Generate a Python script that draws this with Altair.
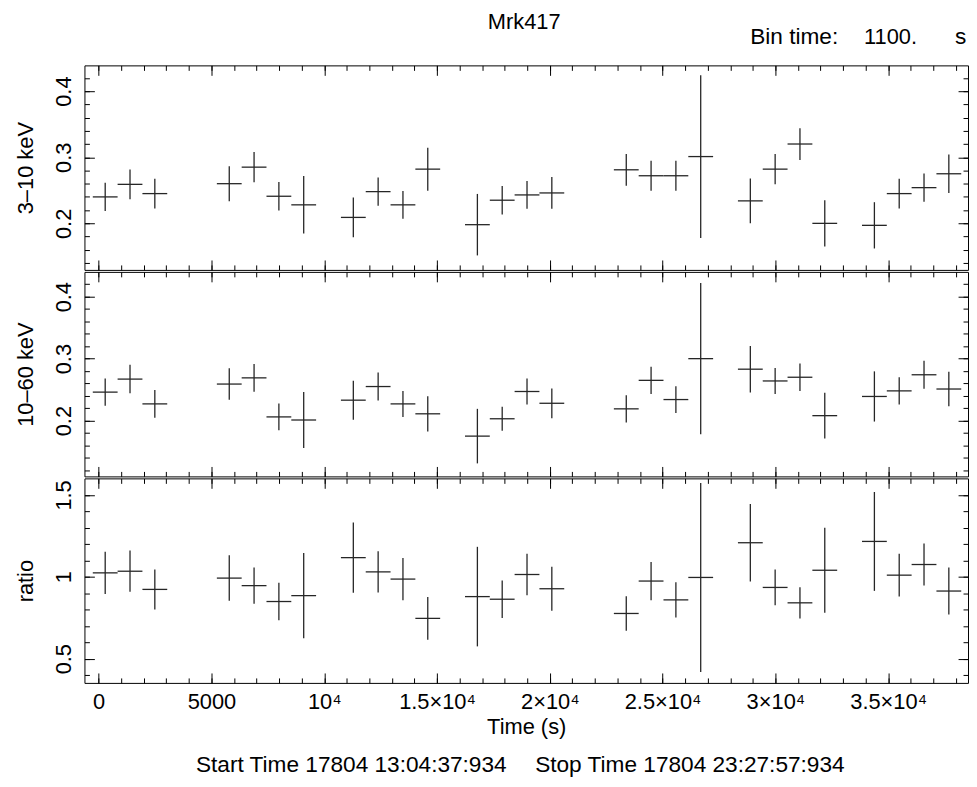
import altair as alt
import pandas as pd

FONT = "Liberation Sans"
FS = 22
LINE = "#262626"

# ---------------- data ----------------
bin_time = 1100
times = [290, 1390, 2490, 5790, 6890, 7990, 9090, 11290, 12390, 13490, 14590,
         16790, 17890, 18990, 20090, 23390, 24490, 25590, 26690, 28890, 29990,
         31090, 32190, 34390, 35490, 36590, 37690]

soft_val = [0.240, 0.259, 0.245, 0.260, 0.285, 0.241, 0.228, 0.209, 0.248, 0.228,
            0.282, 0.198, 0.235, 0.243, 0.246, 0.281, 0.272, 0.272, 0.301, 0.234,
            0.282, 0.320, 0.200, 0.197, 0.245, 0.254, 0.275]
soft_err = [0.0215, 0.0225, 0.0225, 0.0265, 0.023, 0.0215, 0.0435, 0.030, 0.0215, 0.021,
            0.0325, 0.0465, 0.0215, 0.021, 0.024, 0.024, 0.0225, 0.0225, 0.123, 0.034,
            0.023, 0.024, 0.035, 0.035, 0.0225, 0.0215, 0.029]

hard_val = [0.246, 0.267, 0.227, 0.259, 0.269, 0.206, 0.201, 0.233, 0.255, 0.227,
            0.211, 0.175, 0.203, 0.247, 0.228, 0.219, 0.265, 0.234, 0.300, 0.283,
            0.264, 0.270, 0.208, 0.239, 0.248, 0.274, 0.251]
hard_err = [0.022, 0.023, 0.0225, 0.0255, 0.0225, 0.0215, 0.045, 0.0315, 0.0225, 0.021,
            0.0285, 0.044, 0.0195, 0.021, 0.024, 0.022, 0.022, 0.0215, 0.122, 0.0375,
            0.021, 0.022, 0.037, 0.0405, 0.022, 0.0225, 0.028]

ratio_val = [1.024, 1.034, 0.923, 0.992, 0.946, 0.849, 0.885, 1.117, 1.030, 0.986,
             0.746, 0.879, 0.863, 1.014, 0.927, 0.776, 0.974, 0.859, 0.996, 1.208,
             0.935, 0.841, 1.040, 1.216, 1.010, 1.075, 0.913]
ratio_err = [0.129, 0.126, 0.122, 0.139, 0.110, 0.114, 0.261, 0.215, 0.126, 0.129,
             0.131, 0.304, 0.115, 0.127, 0.134, 0.105, 0.117, 0.107, 0.577, 0.236,
             0.109, 0.095, 0.259, 0.302, 0.131, 0.128, 0.143]

x_domain = [-630, 38540]
x_major = [0, 5000, 10000, 15000, 20000, 25000, 30000, 35000]
x_major_labels = ["0", "5000", "10⁴", "1.5×10⁴", "2×10⁴", "2.5×10⁴", "3×10⁴", "3.5×10⁴"]
x_minor = list(range(0, 38001, 1000))

soft_domain = [0.1296, 0.4389]
soft_major = [0.2, 0.3, 0.4]
soft_minor = [0.14, 0.16, 0.18, 0.20, 0.22, 0.24, 0.26, 0.28, 0.30, 0.32, 0.34,
              0.36, 0.38, 0.40, 0.42]

hard_domain = [0.110, 0.440]
hard_major = [0.2, 0.3, 0.4]
hard_minor = [0.12, 0.14, 0.16, 0.18, 0.20, 0.22, 0.24, 0.26, 0.28, 0.30, 0.32,
              0.34, 0.36, 0.38, 0.40, 0.42]

ratio_domain = [0.352, 1.601]
ratio_major = [0.5, 1.0, 1.5]
ratio_minor = [0.4, 0.5, 0.6, 0.7, 0.8, 0.9, 1.0, 1.1, 1.2, 1.3, 1.4, 1.5]

title_text = "Mrk417"
bin_texts = ["Bin time:", "1100.", "s"]
start_text = "Start Time 17804 13:04:37:934"
stop_text = "Stop Time 17804 23:27:57:934"

# ---------------- layout ----------------
W = 890
H = 206
MAJ = 10
MIN = 5

label_expr = "''"
for v, l in reversed(list(zip(x_major, x_major_labels))):
    label_expr = f"datum.value == {v} ? '{l}' : ({label_expr})"


def tick_axis(orient, values, size, domain=False):
    return alt.Axis(orient=orient, values=values, labels=False, ticks=True,
                    tickSize={"expr": str(-size)}, domain=domain, grid=False,
                    title=None)


def text_layer(s, x, y, align="left", size=FS):
    return alt.Chart(pd.DataFrame({"s": [s]})).mark_text(
        font=FONT, fontSize=size, color="black", align=align,
        baseline="alphabetic"
    ).encode(x=alt.value(x), y=alt.value(y), text="s:N")


def panel(vals, errs, ydom, ymaj, ymin, ytitle, is_bottom, extra):
    df = pd.DataFrame({"t": times, "v": vals, "e": errs})
    df["t0"] = df["t"] - bin_time / 2
    df["t1"] = df["t"] + bin_time / 2
    df["lo"] = df["v"] - df["e"]
    df["hi"] = df["v"] + df["e"]
    xs = alt.Scale(domain=x_domain, nice=False, zero=False)
    ys = alt.Scale(domain=ydom, nice=False, zero=False)
    base = alt.Chart(df)

    xA = alt.Axis(orient="bottom", values=x_major, labels=is_bottom,
                  labelExpr=label_expr, labelPadding=8.8, labelFlush=False,
                  labelOverlap=False, ticks=False, domain=True, grid=False,
                  title="Time (s)" if is_bottom else None, titlePadding=4.5)
    yA = alt.Axis(orient="left", values=ymaj, format="~g", labelAngle=270,
                  labelAlign="center", labelBaseline="bottom", labelPadding=9,
                  labelOverlap=False, labelFlush=False,
                  ticks=False, domain=True, grid=False, title=ytitle,
                  titlePadding=15)

    errbars = base.mark_rule(color=LINE, strokeWidth=1.3).encode(
        x=alt.X("t:Q", scale=xs, axis=xA),
        y=alt.Y("lo:Q", scale=ys, axis=yA),
        y2="hi:Q",
    )
    hbars = base.mark_rule(color=LINE, strokeWidth=1.3).encode(
        x=alt.X("t0:Q", scale=xs, axis=tick_axis("bottom", x_major, MAJ)),
        x2="t1:Q",
        y=alt.Y("v:Q", scale=ys, axis=tick_axis("left", ymaj, MAJ)),
    )
    minor_bl = base.mark_point(opacity=0).encode(
        x=alt.X("t:Q", scale=xs, axis=tick_axis("bottom", x_minor, MIN)),
        y=alt.Y("v:Q", scale=ys, axis=tick_axis("left", ymin, MIN)),
    )
    major_tr = base.mark_point(opacity=0).encode(
        x=alt.X("t:Q", scale=xs, axis=tick_axis("top", x_major, MAJ, domain=True)),
        y=alt.Y("v:Q", scale=ys, axis=tick_axis("right", ymaj, MAJ, domain=True)),
    )
    minor_tr = base.mark_point(opacity=0).encode(
        x=alt.X("t:Q", scale=xs, axis=tick_axis("top", x_minor, MIN)),
        y=alt.Y("v:Q", scale=ys, axis=tick_axis("right", ymin, MIN)),
    )
    layers = [errbars, hbars, minor_bl, major_tr, minor_tr] + extra
    return alt.layer(*layers).resolve_axis(
        x="independent", y="independent"
    ).properties(width=W, height=H)


top_extra = [
    text_layer(title_text, 443, -36.7, align="center"),
    text_layer(bin_texts[0], 670.6, -22, size=22.8),
    text_layer(bin_texts[1], 785.3, -22),
    text_layer(bin_texts[2], 877, -22, size=22.8),
]
bottom_extra = [
    text_layer(start_text, 112.3, 295.5, size=22.8),
    text_layer(stop_text, 454, 295.5, size=22.8),
]

p1 = panel(soft_val, soft_err, soft_domain, soft_major, soft_minor,
           "3–10 keV", False, top_extra)
p2 = panel(hard_val, hard_err, hard_domain, hard_major, hard_minor,
           "10–60 keV", False, [])
p3 = panel(ratio_val, ratio_err, ratio_domain, ratio_major, ratio_minor,
           "ratio", True, bottom_extra)

chart = alt.vconcat(p1, p2, p3, spacing=0).properties(
    padding={"left": 7, "top": 0, "right": 0, "bottom": 0},
    background="white",
).configure_view(stroke=None).configure_axis(
    labelFont=FONT, labelFontSize=FS, labelColor="black",
    titleFont=FONT, titleFontSize=FS, titleFontWeight="normal", titleColor="black",
    domainColor="black", domainWidth=1, tickColor="black", tickWidth=1,
)

chart.save("out.html", embed_options={"renderer": "svg", "actions": False})
